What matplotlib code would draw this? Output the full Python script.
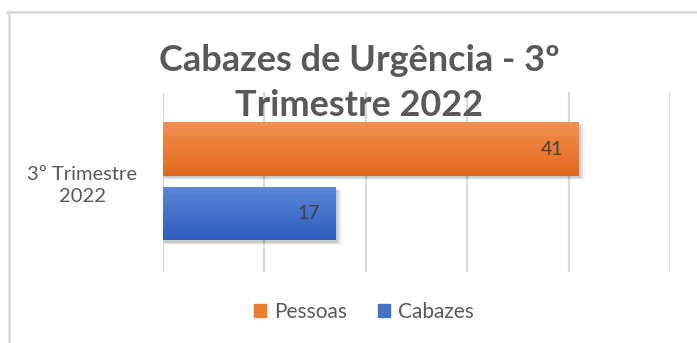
import matplotlib.pyplot as plt
import matplotlib.colors as mcolors
from matplotlib.patches import Patch
import numpy as np

title_lines = ["Cabazes de Urgência - 3º", "Trimestre 2022"]
category = "3º Trimestre\n2022"
series = ["Cabazes", "Pessoas"]
values = [17, 41]
bar_pos = [0.325, 0.683]
grad_colors = [("#5C87D8", "#2D5DBE"), ("#F38F52", "#E2691B")]
legend_colors = ["#4472C4", "#ED7D31"]

plt.rcParams['font.family'] = ['Lato', 'DejaVu Sans']
gray = "#595959"

fig = plt.figure(figsize=(6.97, 3.43), dpi=100)
ax = fig.add_axes([163 / 697, 71 / 343, 507 / 697, 180 / 343])

bars = ax.barh(bar_pos, values, height=0.30, color='none', zorder=3)

# soft drop shadow plus vertical gradient fill for each bar
grad = np.linspace(0, 1, 64).reshape(-1, 1)
for bar, (top, bottom) in zip(bars, grad_colors):
    x0, y0, w, h = bar.get_x(), bar.get_y(), bar.get_width(), bar.get_height()
    for k, a in enumerate([0.10, 0.07, 0.04]):
        ax.add_patch(plt.Rectangle((x0 + 0.1 * k, y0 - 0.012 - 0.006 * k), w + 0.25 + 0.1 * k, h,
                                   color='black', alpha=a, lw=0, zorder=2))
    cmap = mcolors.LinearSegmentedColormap.from_list('g', [bottom, top])
    im = ax.imshow(grad, cmap=cmap, aspect='auto', extent=(x0, x0 + w, y0, y0 + h),
                   origin='lower', zorder=3, interpolation='bicubic')
    im.set_clip_path(bar)
    ax.annotate(str(w), (x0 + w, y0 + h / 2), xytext=(-11, 0), textcoords='offset points',
                ha='right', va='center', fontsize=14, color="#404040", zorder=5)

ax.set_xlim(0, 50)
ax.set_ylim(0, 1)
ax.set_xticks(np.arange(0, 51, 10))
ax.xaxis.grid(True, color="#D9D9D9", lw=1.6, zorder=0)
ax.tick_params(axis='x', length=0, labelbottom=False)
ax.set_yticks([0.5])
ax.set_yticklabels([category], fontsize=14.5, color=gray, ma='center', ha='center',
                   linespacing=1.35)
ax.tick_params(axis='y', length=0, pad=58)
for s in ax.spines.values():
    s.set_visible(False)

for line, base in zip(title_lines, [71, 116]):
    fig.text(359 / 697, 1 - base / 343, line, ha='center', va='baseline', fontsize=26,
             fontweight='bold', color=gray, zorder=5)

handles = [Patch(color=legend_colors[1], label=series[1]),
           Patch(color=legend_colors[0], label=series[0])]
fig.legend(handles=handles, loc='center', bbox_to_anchor=(364 / 697, 31 / 343), ncol=2,
           frameon=False, fontsize=15, labelcolor=gray, handlelength=0.55, handleheight=0.55,
           handletextpad=0.4, columnspacing=1.5)

# chart area border (top and left edges)
fig.add_artist(plt.Line2D([7 / 697, 1], [1 - 12 / 343] * 2, color="#D9D9D9", lw=1.8))
fig.add_artist(plt.Line2D([9 / 697] * 2, [0, 1 - 12 / 343], color="#D9D9D9", lw=1.8))

fig.savefig("out.png", dpi=100)
